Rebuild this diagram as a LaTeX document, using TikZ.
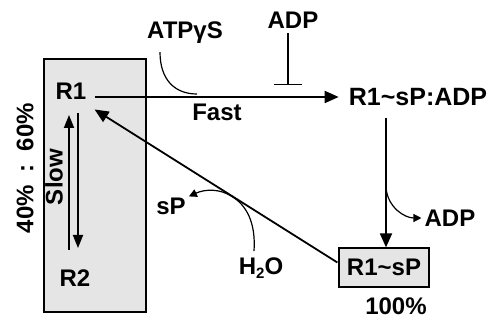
\documentclass[tikz,border=0pt]{standalone}
\usepackage{fontspec}
\setmainfont{Liberation Sans}
\usetikzlibrary{arrows.meta,calc}
\definecolor{boxgray}{RGB}{229,229,229}
\begin{document}
\begin{tikzpicture}[x=1pt,y=-1pt,
  txt/.style={font=\bfseries\fontsize{24}{28}\selectfont, inner sep=0pt},
  main/.style={line width=1.8pt, -{Triangle[length=14pt,width=12pt]}},
  thinarr/.style={line width=1.2pt, -{Triangle[length=8pt,width=8pt]}},
  plainln/.style={line width=1.2pt},
  pool/.style={draw, line width=1.2pt, fill=boxgray, inner sep=0pt}]
\useasboundingbox (0,0) rectangle (493,320);
% left pool box
\node[pool, minimum width=102pt, minimum height=253pt] (grp) at (95,185.5) {};
% text nodes
\node[txt] (R1) at (71,91) {R1};
\node[txt] (R2) at (75,278) {R2};
\node[txt] (ATP) at (185,33) {ATPγS};
\node[txt] (ADPt) at (293,20) {ADP};
\node[txt] (fast) at (217,112) {Fast};
\node[txt, font=\bfseries\fontsize{25}{28}\selectfont] (RsPADP) at (418,97) {R1\char`~sP:ADP};
\node[pool, txt, minimum width=90pt, minimum height=39pt] (RsP) at (384,267.5) {R1\char`~sP};
\node[txt] (ADPb) at (450,218) {ADP};
\node[txt] (pct) at (396,306.5) {100\%};
\node[txt] (water) at (261,268) {H\raisebox{-0.35ex}{\fontsize{15}{15}\selectfont 2}O};
\node[txt] (sP) at (171,206) {sP};
\node[txt, rotate=90] (slow) at (54,177) {Slow};
\node[txt, rotate=90] (ratio) at (25,168) {40\%\hspace{13pt}:\hspace{13pt}60\%};
% fast arrow
\coordinate (fs) at ($(R1.east)+(8,6)$);
\draw[main, shorten >=10pt] (fs) -- (fs -| RsPADP.west) coordinate (fe);
\coordinate (atpend) at (197,94);
\draw[plainln] ($(ATP.south)+(-25,8)$) .. controls (160,80) and (175,94) .. (atpend);
% ADP inhibition
\coordinate (inh) at (288,85);
\draw[plainln, -{Bar[width=28pt,line width=1.2pt]}] ($(ADPt.south)+(-5,5)$) -- (inh);
% down to R1~sP
\coordinate (vtop) at ($(RsP.north |- RsPADP.south)+(2,12)$);
\draw[main] (vtop) -- ($(RsP.north)+(2,0)$);
\coordinate (vbr) at (386,188);
\draw[thinarr] (vbr) .. controls (388,208) and (405,218) .. ($(ADPb.west)+(-3,0)$);
% return diagonal
\coordinate (dstart) at ($(RsP.west)+(-1,-5)$);
\draw[main] (dstart) -- ($(R1.south east)+(8,10)$);
% H2O -> sP
\coordinate (wtop) at ($(water.north)+(-7,-6)$);
\draw[thinarr] (wtop) .. controls (256,222) and (246,205) .. (232,196.5)
   .. controls (220,188.5) and (205,189) .. ($(sP.north east)+(3,-1)$);
% slow arrows
\draw[main, -{Triangle[length=13pt,width=10pt]}] (69,250) -- (69,115);
\draw[main, -{Triangle[length=13pt,width=10pt]}] (78,113) -- (78,248);
\end{tikzpicture}
\end{document}
